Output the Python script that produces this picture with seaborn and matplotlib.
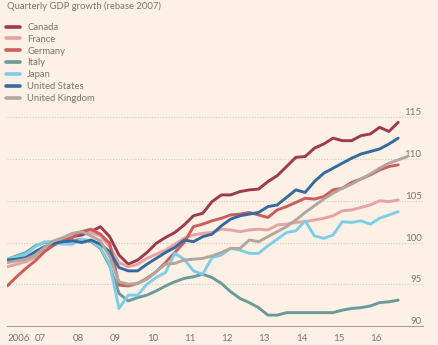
import matplotlib
matplotlib.use("Agg")
import matplotlib.pyplot as plt
import numpy as np
import pandas as pd
import seaborn as sns

# Quarterly GDP index, rebased to 2007 = 100 (2006 Q2 onward)
canada = [97.8, 97.9, 98.0, 98.4, 99.0, 99.7, 100.3, 100.7, 100.9, 101.3, 101.9,
          100.7, 98.5, 97.4, 97.9, 98.8, 99.9, 100.6, 101.2, 102.1, 103.2, 103.5,
          104.9, 105.7, 105.7, 106.1, 106.3, 106.4, 107.3, 108.0, 109.1, 110.2,
          110.3, 111.3, 111.8, 112.5, 112.2, 112.2, 112.8, 113.0, 113.8, 113.3, 114.4]
france = [97.1, 97.4, 97.7, 98.2, 99.0, 99.8, 100.4, 100.9, 101.3, 101.2, 100.8,
          99.5, 97.6, 97.1, 97.4, 98.1, 98.6, 99.1, 99.8, 100.5, 100.9, 101.1,
          101.2, 101.6, 101.5, 101.3, 101.5, 101.6, 101.5, 102.1, 102.2, 102.4,
          102.5, 102.7, 102.9, 103.2, 103.8, 103.9, 104.2, 104.5, 105.0, 104.9, 105.1]
germany = [94.8, 95.9, 96.9, 97.8, 98.9, 99.7, 100.2, 100.6, 101.3, 101.6, 101.0,
           99.9, 94.9, 94.8, 95.1, 95.7, 96.5, 97.6, 98.8, 100.0, 101.9, 102.2,
           102.6, 102.9, 103.3, 103.4, 103.6, 103.3, 103.0, 103.9, 104.3, 104.8,
           105.3, 105.2, 105.5, 106.3, 106.5, 107.2, 107.6, 108.1, 108.7, 109.1, 109.3]
italy = [98.0, 98.4, 98.8, 99.6, 100.0, 100.1, 100.0, 100.2, 100.4, 100.1, 99.3,
         97.2, 93.9, 93.0, 93.4, 93.7, 94.2, 94.8, 95.3, 95.7, 95.9, 96.2,
         95.8, 95.1, 94.1, 93.3, 92.8, 92.2, 91.3, 91.3, 91.6, 91.6,
         91.6, 91.6, 91.6, 91.6, 91.9, 92.1, 92.2, 92.4, 92.8, 92.9, 93.1]
japan = [98.0, 98.3, 98.6, 99.5, 100.1, 100.0, 99.8, 99.8, 100.4, 100.2, 99.4,
         97.4, 92.1, 93.7, 93.7, 95.0, 95.8, 96.4, 98.7, 98.0, 96.6, 96.2,
         98.2, 98.5, 99.3, 99.1, 98.7, 98.7, 99.6, 100.4, 101.2, 101.4,
         102.6, 100.8, 100.5, 100.9, 102.5, 102.4, 102.6, 102.2, 102.9, 103.3, 103.7]
united_states = [97.9, 98.0, 98.2, 98.9, 99.5, 99.9, 100.1, 100.2, 100.0, 100.3, 99.8,
                 98.9, 97.0, 96.6, 96.6, 97.4, 98.1, 98.8, 99.4, 100.3, 100.1, 100.7,
                 101.0, 102.0, 102.8, 103.2, 103.4, 103.6, 104.3, 104.5, 105.4, 106.3,
                 106.0, 107.3, 108.3, 108.9, 109.5, 110.1, 110.6, 110.9, 111.2, 111.8, 112.5]
united_kingdom = [97.6, 97.8, 98.0, 98.5, 99.4, 100.2, 100.6, 101.1, 101.3, 100.8, 100.2,
                  98.3, 95.3, 95.0, 95.1, 95.6, 96.5, 97.4, 97.5, 97.9, 98.0, 98.1,
                  98.4, 98.8, 99.3, 99.3, 100.3, 100.1, 100.7, 101.3, 101.9, 102.7,
                  103.6, 104.4, 105.2, 105.9, 106.5, 107.0, 107.6, 108.2, 108.9, 109.5,
                  109.9, 110.3]

series = {
    "Canada": canada,
    "France": france,
    "Germany": germany,
    "Italy": italy,
    "Japan": japan,
    "United States": united_states,
    "United Kingdom": united_kingdom,
}
colors = {
    "Canada": "#9e3a50",
    "France": "#e6a3a4",
    "Germany": "#cc5c5e",
    "Italy": "#6c9a9b",
    "Japan": "#80cde9",
    "United States": "#366a9f",
    "United Kingdom": "#b3a79b",
}

quarters = pd.period_range("2006Q2", "2017Q1", freq="Q")
qpos = quarters.year + (quarters.quarter - 1) / 4.0

rows = []
for name, vals in series.items():
    for x, v in zip(qpos[:len(vals)], vals):
        rows.append({"date": x, "index": v, "country": name})
df = pd.DataFrame(rows)

year_ticks = [2006.25] + list(range(2007, 2017))
year_labels = ["2006"] + [f"{y % 100:02d}" for y in range(2007, 2017)]
y_ticks = [90, 95, 100, 105, 110, 115]

bg = "#fdf0e4"
text_col = "#7d766f"
grid_col = "#d8cdc3"

sns.set_theme(style="white")
plt.rcParams["font.family"] = ["Lato", "DejaVu Sans"]

fig = plt.figure(figsize=(4.38, 3.45), dpi=100, facecolor=bg)
ax = fig.add_axes([7.3 / 438, 19 / 345, (423 - 7.3) / 438, 212.9 / 345])
ax.set_facecolor(bg)

sns.lineplot(data=df, x="date", y="index", hue="country", hue_order=list(series),
             palette=colors, linewidth=2.1, ax=ax, legend=True)

ax.set_xlim(2006.25, 2017.416)
ax.set_ylim(90, 115.5)
ax.set_xlabel("")
ax.set_ylabel("")

for s in ["top", "left", "right"]:
    ax.spines[s].set_visible(False)
ax.spines["bottom"].set_color("#a59d96")
ax.spines["bottom"].set_linewidth(0.8)

ax.set_xticks(year_ticks)
ax.set_xticklabels(year_labels, ha="left")
ax.tick_params(axis="x", length=4, width=0.8, color="#a59d96",
               labelsize=7, pad=2, direction="out")
ax.tick_params(axis="x", labelcolor=text_col)

ax.set_yticks(y_ticks)
ax.set_yticklabels([str(v) for v in y_ticks])
ax.yaxis.tick_right()
ax.tick_params(axis="y", length=0, labelsize=7, labelcolor=text_col, pad=-1)
for lab in ax.get_yticklabels():
    lab.set_horizontalalignment("right")
    lab.set_verticalalignment("bottom")
for v in y_ticks[1:]:
    ax.axhline(v, color=grid_col, linewidth=0.8, linestyle=(0, (1, 1.5)), zorder=0)

leg = ax.get_legend()
handles, labels = ax.get_legend_handles_labels()
leg.remove()
for h in handles:
    h.set_linewidth(2.6)
fig.legend(handles, labels, loc="upper left", bbox_to_anchor=(3 / 438, 1 - 20 / 345),
           frameon=False, fontsize=6.8, handlelength=1.45, handletextpad=0.8,
           labelspacing=0.3, borderaxespad=0, borderpad=0.3, labelcolor=text_col)

fig.text(7 / 438, 1 - 6.5 / 345, "Quarterly GDP growth (rebase 2007)", fontsize=6.8,
         color=text_col, ha="left", va="center")

fig.savefig("out.png", dpi=100, facecolor=bg)
